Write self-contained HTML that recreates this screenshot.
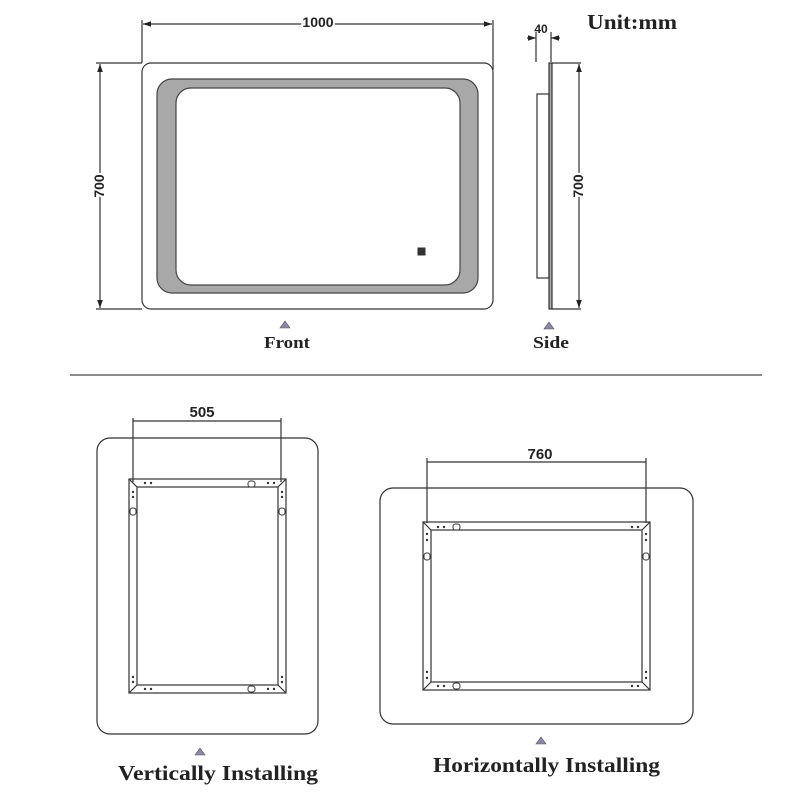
<!DOCTYPE html>
<html><head><meta charset="utf-8"><style>html,body{margin:0;padding:0;background:#fff}svg{display:block}</style></head><body>
<svg width="800" height="800" viewBox="0 0 800 800" xmlns="http://www.w3.org/2000/svg">
<defs>
<marker id="a" viewBox="0 0 10 10" refX="10" refY="5" markerWidth="8" markerHeight="8" orient="auto-start-reverse" markerUnits="userSpaceOnUse"><path d="M0,1.5 L10,5 L0,8.5 Z" fill="#222"/></marker>
</defs>
<g fill="none" stroke="#333" stroke-width="1.2">
<!-- Front -->
<rect x="142" y="63" width="351" height="246" rx="9"/>
<rect x="157" y="79" width="321" height="214" rx="15" fill="#a8a8a8" stroke="#444"/>
<rect x="176" y="88" width="284" height="197" rx="15" fill="#fff" stroke="#444"/>
<line x1="142" y1="20" x2="142" y2="63"/>
<line x1="493" y1="20" x2="493" y2="70"/>
<line x1="143" y1="24" x2="492" y2="24" marker-start="url(#a)" marker-end="url(#a)"/>
<line x1="96" y1="63" x2="142" y2="63"/>
<line x1="96" y1="309" x2="142" y2="309"/>
<line x1="100" y1="64" x2="100" y2="308" marker-start="url(#a)" marker-end="url(#a)"/>
<!-- Side -->
<rect x="549" y="63" width="3" height="246" fill="#aaa"/>
<rect x="537" y="94" width="12" height="184"/>
<line x1="552" y1="63" x2="581" y2="63"/>
<line x1="552" y1="309" x2="581" y2="309"/>
<line x1="579" y1="64" x2="579" y2="308" marker-start="url(#a)" marker-end="url(#a)"/>
<line x1="536" y1="32" x2="536" y2="62"/>
<line x1="551" y1="32" x2="551" y2="62"/>
<line x1="527" y1="38" x2="536" y2="38" marker-end="url(#a)"/>
<line x1="560" y1="38" x2="551" y2="38" marker-end="url(#a)"/>
<!-- separator -->
<line x1="70" y1="375" x2="762" y2="375" stroke="#666" stroke-width="1.5"/>
<!-- Vertical -->
<rect x="97" y="438" width="221" height="296" rx="13"/>
<line x1="133" y1="418" x2="133" y2="482"/>
<line x1="281" y1="418" x2="281" y2="482"/>
<line x1="133" y1="421" x2="281" y2="421"/>
<rect x="129" y="479" width="157" height="214"/>
<rect x="137" y="487" width="141" height="198"/>
<path d="M129,479L137,487M286,479L278,487M129,693L137,685M286,693L278,685"/>
<!-- Horizontal -->
<rect x="380" y="488" width="313" height="236" rx="13"/>
<line x1="427" y1="458" x2="427" y2="523"/>
<line x1="646" y1="458" x2="646" y2="523"/>
<line x1="427" y1="462" x2="646" y2="462"/>
<rect x="423" y="522" width="227" height="168"/>
<rect x="431" y="530" width="211" height="152"/>
<path d="M423,522L431,530M650,522L642,530M423,690L431,682M650,690L642,682"/>
</g>
<!-- keyholes -->
<g fill="#fff" stroke="#333" stroke-width="1">
<rect x="248" y="481" width="7" height="6" rx="2.5"/>
<rect x="248" y="686" width="7" height="6" rx="2.5"/>
<rect x="130" y="508" width="6" height="7" rx="2.5"/>
<rect x="279" y="508" width="6" height="7" rx="2.5"/>
<rect x="453" y="524" width="7" height="6" rx="2.5"/>
<rect x="453" y="683" width="7" height="6" rx="2.5"/>
<rect x="424" y="553" width="6" height="7" rx="2.5"/>
<rect x="643" y="553" width="6" height="7" rx="2.5"/>
<rect x="418" y="248" width="7" height="7" fill="#333"/>
</g>
<g fill="#333">
<circle cx="145" cy="483" r="1.2"/><circle cx="151" cy="483" r="1.2"/>
<circle cx="268" cy="483" r="1.2"/><circle cx="274" cy="483" r="1.2"/>
<circle cx="145" cy="689" r="1.2"/><circle cx="151" cy="689" r="1.2"/>
<circle cx="268" cy="689" r="1.2"/><circle cx="274" cy="689" r="1.2"/>
<circle cx="133" cy="492" r="1.2"/><circle cx="133" cy="497" r="1.2"/>
<circle cx="282" cy="492" r="1.2"/><circle cx="282" cy="497" r="1.2"/>
<circle cx="133" cy="677" r="1.2"/><circle cx="133" cy="682" r="1.2"/>
<circle cx="282" cy="677" r="1.2"/><circle cx="282" cy="682" r="1.2"/>
<circle cx="438" cy="527" r="1.2"/><circle cx="444" cy="527" r="1.2"/>
<circle cx="632" cy="527" r="1.2"/><circle cx="638" cy="527" r="1.2"/>
<circle cx="438" cy="686" r="1.2"/><circle cx="444" cy="686" r="1.2"/>
<circle cx="632" cy="686" r="1.2"/><circle cx="638" cy="686" r="1.2"/>
<circle cx="427" cy="534" r="1.2"/><circle cx="427" cy="540" r="1.2"/>
<circle cx="646" cy="534" r="1.2"/><circle cx="646" cy="540" r="1.2"/>
<circle cx="427" cy="672" r="1.2"/><circle cx="427" cy="678" r="1.2"/>
<circle cx="646" cy="672" r="1.2"/><circle cx="646" cy="678" r="1.2"/>
</g>
<!-- triangles -->
<g fill="#8a86b0" stroke="#555" stroke-width="0.6">
<path d="M285,321L290,328L280,328Z"/>
<path d="M549,322L554,329L544,329Z"/>
<path d="M200,748L205,755L195,755Z"/>
<path d="M541,737L546,744L536,744Z"/>
</g>
<!-- text -->
<g font-family="Liberation Sans, sans-serif" font-weight="bold" font-size="14" fill="#222" text-anchor="middle">
<text x="318" y="27" style="paint-order:stroke" stroke="#fff" stroke-width="4">1000</text>
<text x="541" y="33" font-size="12">40</text>
<text x="202" y="417" font-size="15">505</text>
<text x="540" y="459" font-size="15">760</text>
<text transform="translate(104,186) rotate(-90)" style="paint-order:stroke" stroke="#fff" stroke-width="4">700</text>
<text transform="translate(583,186) rotate(-90)" style="paint-order:stroke" stroke="#fff" stroke-width="4">700</text>
</g>
<g font-family="Liberation Serif, serif" font-weight="bold" fill="#222">
<text x="587" y="29" font-size="21" textLength="90" lengthAdjust="spacingAndGlyphs">Unit:mm</text>
<text x="264" y="348" font-size="17" textLength="46" lengthAdjust="spacingAndGlyphs">Front</text>
<text x="533" y="348" font-size="17" textLength="36" lengthAdjust="spacingAndGlyphs">Side</text>
<text x="118" y="780" font-size="21" textLength="200" lengthAdjust="spacingAndGlyphs">Vertically Installing</text>
<text x="433" y="772" font-size="21" textLength="227" lengthAdjust="spacingAndGlyphs">Horizontally Installing</text>
</g>
</svg>
</body></html>
